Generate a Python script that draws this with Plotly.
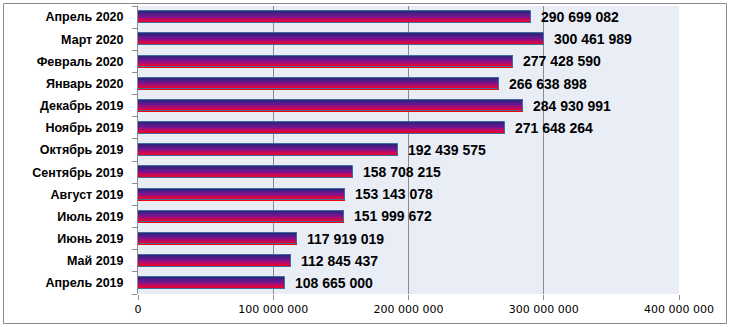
import plotly.graph_objects as go

categories = ["Апрель 2019", "Май 2019", "Июнь 2019", "Июль 2019", "Август 2019",
              "Сентябрь 2019", "Октябрь 2019", "Ноябрь 2019", "Декабрь 2019",
              "Январь 2020", "Февраль 2020", "Март 2020", "Апрель 2020"]
values = [108665000, 112845437, 117919019, 151999672, 153143078,
          158708215, 192439575, 271648264, 284930991,
          266638898, 277428590, 300461989, 290699082]
x_ticks = [0, 100000000, 200000000, 300000000, 400000000]

W, H = 732, 327
L, R, T, B = 138, 53, 6, 33

bar_w = 0.52
N = 14
stops = [(0.0, (255, 0, 0)), (0.3, (205, 8, 85)), (0.6, (120, 20, 145)), (1.0, (45, 35, 125))]


def grad(t):
    for (t0, c0), (t1, c1) in zip(stops[:-1], stops[1:]):
        if t0 <= t <= t1:
            f = (t - t0) / (t1 - t0)
            return "rgb(%d,%d,%d)" % tuple(round(a + (b - a) * f) for a, b in zip(c0, c1))
    return "rgb(%d,%d,%d)" % stops[-1][1]


fig = go.Figure()
for i in range(N):
    fig.add_trace(go.Bar(
        y=categories, x=values, orientation="h",
        width=bar_w / N * 1.05, offset=-bar_w / 2 + i * bar_w / N,
        marker=dict(color=grad((i + 0.5) / N), line=dict(width=0)),
        showlegend=False, hoverinfo="skip"))
fig.add_trace(go.Bar(
    y=categories, x=values, orientation="h",
    width=bar_w, offset=-bar_w / 2,
    marker=dict(color="rgba(0,0,0,0)", line=dict(color="#3F6E9E", width=1)),
    showlegend=False, hoverinfo="skip"))

annotations = []
for c, v in zip(categories, values):
    annotations.append(dict(
        x=v, y=c, xref="x", yref="y", text="{:,}".format(v).replace(",", " "),
        showarrow=False, xanchor="left", yanchor="middle", xshift=8,
        font=dict(family="Liberation Sans", size=14, color="black", weight="bold")))

pw = W - L - R
ph = H - T - B


def px(xp):
    return (xp - L) / pw


def py(yp):
    return (H - B - yp) / ph


fig.update_layout(
    width=W, height=H, margin=dict(l=L, r=R, t=T, b=B),
    barmode="overlay", bargap=0,
    paper_bgcolor="white", plot_bgcolor="#E9EDF6",
    separators=", ",
    annotations=annotations,
    shapes=[dict(type="rect", xref="paper", yref="paper",
                 x0=px(3.5), x1=px(726.5), y0=py(3.5), y1=py(323.5),
                 line=dict(color="#8A8A8A", width=1), layer="below")],
    xaxis=dict(range=[0, 400000000], tickvals=x_ticks, tickformat=",d",
               showgrid=True, gridcolor="#8C8C8C", gridwidth=1,
               zeroline=False, showline=False,
               ticks="outside", ticklen=5, tickcolor="#8C8C8C",
               tickfont=dict(family="DejaVu Sans", size=11, color="black"),
               fixedrange=True),
    yaxis=dict(type="category", categoryorder="array", categoryarray=categories,
               showgrid=False, showline=True, linecolor="#8C8C8C", linewidth=1,
               ticks="outside", ticklen=5, tickcolor="#8C8C8C", tickson="boundaries",
               ticklabelstandoff=11,
               tickfont=dict(family="Liberation Sans", size=12.5, color="black", weight="bold"),
               fixedrange=True),
)

fig.write_html("out.html")
